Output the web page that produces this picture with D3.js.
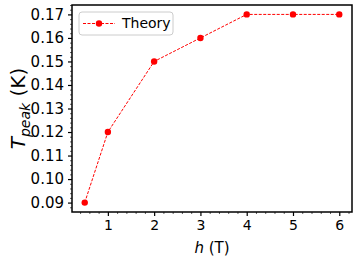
<!DOCTYPE html>
<html>
<head>
<meta charset="utf-8">
<script src="https://cdn.jsdelivr.net/npm/d3@7"></script>
<style>
  body { margin: 0; background: #fff; }
  text { font-family: "DejaVu Sans", sans-serif; }
</style>
</head>
<body>
<div id="chart"></div>
<script>
// data
const fields = [0.5, 1, 2, 3, 4, 5, 6];
const tpeak = [0.09, 0.12, 0.15, 0.16, 0.17, 0.17, 0.17];
const xTicks = [1, 2, 3, 4, 5, 6];
const yTicks = [0.09, 0.10, 0.11, 0.12, 0.13, 0.14, 0.15, 0.16, 0.17];
const seriesName = "Theory";

const data = fields.map((h, i) => ({h: h, t: tpeak[i]}));

const W = 357, H = 260;
const margin = {top: 5, right: 5, bottom: 48, left: 72};
const width = W - margin.left - margin.right,
      height = H - margin.top - margin.bottom;

const svg = d3.select("#chart").append("svg")
    .attr("width", W).attr("height", H);
const g = svg.append("g")
    .attr("transform", `translate(${margin.left},${margin.top})`);

// scales with matplotlib-like 5% margins
const xScale = d3.scaleLinear().domain([0.225, 6.275]).range([0, width]);
const yScale = d3.scaleLinear().domain([0.086, 0.174]).range([height, 0]);

// minor ticks
const xMinor = d3.range(0.4, 6.3, 0.2).filter(v => Math.abs(v - Math.round(v)) > 1e-6);
const yMinor = d3.range(0.088, 0.1741, 0.002).filter(v => Math.abs(v * 100 - Math.round(v * 100)) > 1e-6);

g.append("g")
    .attr("transform", `translate(0,${height})`)
    .call(d3.axisBottom(xScale).tickValues(xMinor).tickSize(2).tickFormat(""))
    .call(a => a.select(".domain").remove())
    .selectAll("line").attr("stroke", "#333").attr("stroke-width", 0.8);

g.append("g")
    .call(d3.axisLeft(yScale).tickValues(yMinor).tickSize(2).tickFormat(""))
    .call(a => a.select(".domain").remove())
    .selectAll("line").attr("stroke", "#333").attr("stroke-width", 0.8);

// major ticks
const xAxis = g.append("g")
    .attr("transform", `translate(0,${height})`)
    .call(d3.axisBottom(xScale).tickValues(xTicks).tickSize(4).tickPadding(4).tickFormat(d3.format("d")));
xAxis.select(".domain").remove();
xAxis.selectAll("line").attr("stroke-width", 1.2);
xAxis.selectAll("text").attr("font-size", 14).attr("fill", "#000")
    .attr("font-family", "DejaVu Sans");

const yAxis = g.append("g")
    .call(d3.axisLeft(yScale).tickValues(yTicks).tickSize(4).tickPadding(4).tickFormat(d3.format(".2f")));
yAxis.select(".domain").remove();
yAxis.selectAll("line").attr("stroke-width", 1.2);
yAxis.selectAll("text").attr("font-size", 15).attr("fill", "#000")
    .attr("font-family", "DejaVu Sans");

// frame
g.append("rect")
    .attr("x", 0).attr("y", 0)
    .attr("width", width).attr("height", height)
    .attr("fill", "none").attr("stroke", "#000").attr("stroke-width", 1.5);

// line and markers
const line = d3.line()
    .x(d => xScale(d.h))
    .y(d => yScale(d.t));

g.append("path")
    .datum(data)
    .attr("fill", "none")
    .attr("stroke", "red")
    .attr("stroke-width", 1)
    .attr("stroke-dasharray", "3,1.5")
    .attr("d", line);

g.selectAll(".dot")
    .data(data)
    .enter().append("circle")
    .attr("class", "dot")
    .attr("cx", d => xScale(d.h))
    .attr("cy", d => yScale(d.t))
    .attr("r", 3.2)
    .attr("fill", "red");

// axis labels
svg.append("text")
    .attr("x", margin.left + width / 2)
    .attr("y", H - 7)
    .attr("text-anchor", "middle")
    .attr("font-size", 15)
    .html('<tspan font-style="italic">h</tspan> (T)');

svg.append("text")
    .attr("transform", `translate(25,${margin.top + height / 2}) rotate(-90)`)
    .attr("text-anchor", "middle")
    .attr("font-size", 20)
    .html('<tspan font-style="italic">T</tspan><tspan font-style="italic" font-size="14" dy="5">peak</tspan><tspan dy="-5"> (K)</tspan>');

// legend
const legend = g.append("g").attr("transform", "translate(7,7)");
legend.append("rect")
    .attr("x", 0).attr("y", 0)
    .attr("width", 94).attr("height", 23)
    .attr("rx", 3)
    .attr("fill", "#fff").attr("fill-opacity", 0.8)
    .attr("stroke", "#ccc").attr("stroke-width", 1);
legend.append("line")
    .attr("x1", 4).attr("x2", 36)
    .attr("y1", 11.5).attr("y2", 11.5)
    .attr("stroke", "red").attr("stroke-width", 1)
    .attr("stroke-dasharray", "3,1.5");
legend.append("circle")
    .attr("cx", 20).attr("cy", 11.5).attr("r", 3.2).attr("fill", "red");
legend.append("text")
    .attr("x", 43).attr("y", 11.5)
    .attr("dy", "0.35em")
    .attr("font-size", 14)
    .text(seriesName);
</script>
</body>
</html>
